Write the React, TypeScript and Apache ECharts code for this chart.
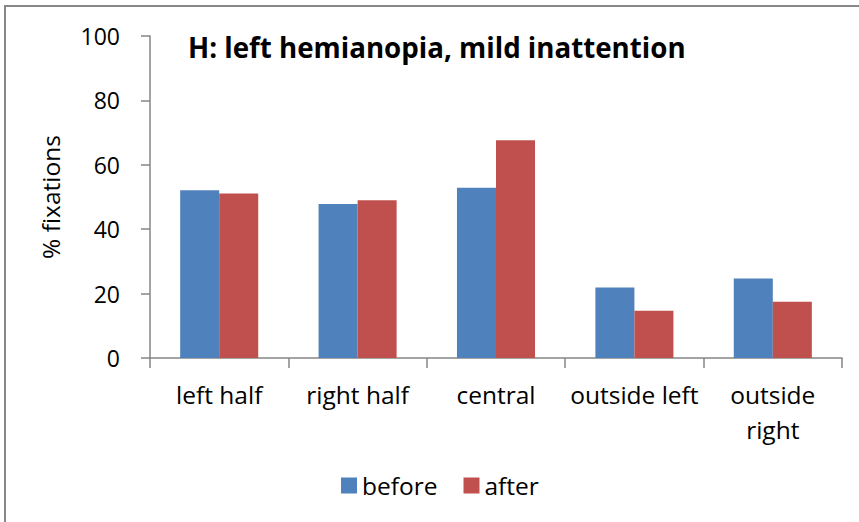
import React, { useEffect, useRef } from "react";
import * as echarts from "echarts";

const categories = ["left half", "right half", "central", "outside left", "outside right"];
const beforeValues = [52.1, 47.8, 52.9, 21.9, 24.7];
const afterValues = [51.1, 49.0, 67.6, 14.7, 17.5];
const seriesNames = ["before", "after"];
const titleText = "H: left hemianopia, mild inattention";
const yAxisName = "% fixations";

const FONT = "Open Sans";

export default function App() {
  const ref = useRef<HTMLDivElement>(null);
  useEffect(() => {
    if (!ref.current) return;
    const chart = echarts.init(ref.current, null, { renderer: "svg" });
    chart.setOption({
      animation: false,
      backgroundColor: "#ffffff",
      textStyle: { fontFamily: FONT },
      title: {
        text: titleText,
        left: 183,
        top: 28,
        textStyle: { fontFamily: FONT, fontWeight: "bold", fontSize: 27.7, color: "#000" },
      },
      graphic: [
        {
          type: "rect",
          shape: { x: 5, y: 6, width: 900, height: 600 },
          style: { fill: "none", stroke: "#878787", lineWidth: 2 },
          silent: true,
        },
      ],
      legend: {
        data: seriesNames,
        left: 336,
        top: 468,
        itemWidth: 16,
        itemHeight: 16,
        itemGap: 26,
        icon: "rect",
        textStyle: { fontFamily: FONT, fontSize: 24.5, color: "#000" },
      },
      grid: { left: 150, right: 17, top: 36, bottom: 164, containLabel: false },
      xAxis: {
        type: "category",
        data: categories,
        axisLine: { lineStyle: { color: "#868686", width: 1.5 } },
        axisTick: { show: true, length: 10, lineStyle: { color: "#868686", width: 1.5 } },
        axisLabel: {
          fontFamily: FONT,
          fontSize: 24.5,
          color: "#000",
          margin: 19,
          lineHeight: 35,
          interval: 0,
          formatter: (v: string) => (v === "outside right" ? "outside\nright" : v),
        },
      },
      yAxis: {
        type: "value",
        min: 0,
        max: 100,
        interval: 20,
        name: yAxisName,
        nameLocation: "middle",
        nameGap: 87,
        nameRotate: 90,
        nameTextStyle: { fontFamily: FONT, fontSize: 24.5, color: "#000" },
        axisLine: { show: true, lineStyle: { color: "#868686", width: 1.5 } },
        axisTick: { show: true, length: 9, lineStyle: { color: "#868686", width: 1.5 } },
        splitLine: { show: false },
        axisLabel: { fontFamily: FONT, fontSize: 23, color: "#000", margin: 30 },
      },
      series: [
        {
          name: seriesNames[0],
          type: "bar",
          data: beforeValues,
          barGap: "0%",
          barCategoryGap: "43.6%",
          itemStyle: { color: "#4F81BD" },
        },
        {
          name: seriesNames[1],
          type: "bar",
          data: afterValues,
          barGap: "0%",
          barCategoryGap: "43.6%",
          itemStyle: { color: "#C0504D" },
        },
      ],
    });
    return () => chart.dispose();
  }, []);
  return (
    <div
      ref={ref}
      style={{ position: "absolute", left: 0, top: 0, width: 859, height: 522 }}
    />
  );
}
